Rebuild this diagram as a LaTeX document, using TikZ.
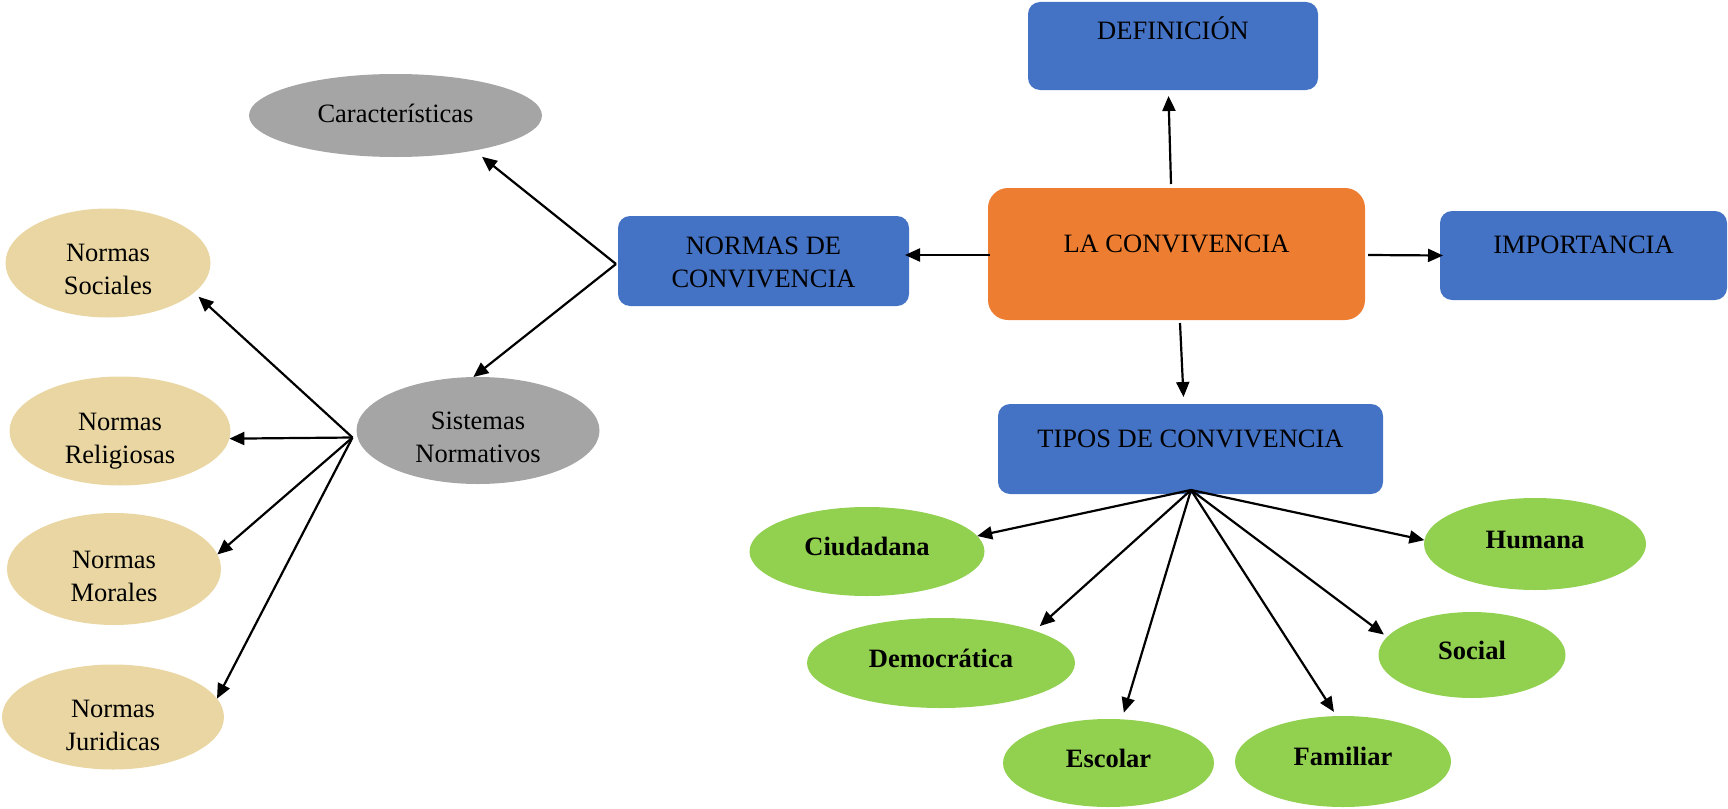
\documentclass[tikz,border=0pt]{standalone}
\usepackage{fontspec}
\setmainfont{Liberation Serif}
\usetikzlibrary{arrows.meta,shapes.geometric}
\definecolor{cblue}{HTML}{4472C4}
\definecolor{corange}{HTML}{ED7D31}
\definecolor{cgray}{HTML}{A5A5A5}
\definecolor{cgreen}{HTML}{92D050}
\definecolor{ctan}{RGB}{233,214,162}
\newcommand\dgfont{\fontsize{26.5}{33}\selectfont}
\begin{document}
\begin{tikzpicture}[x=1pt,y=-1pt,
  every node/.style={font=\dgfont, inner sep=0pt, outer sep=0pt, text=black},
  sz/.style 2 args={minimum width=#1pt, minimum height=#2pt},
  bluebox/.style={rectangle, rounded corners=12pt, fill=cblue},
  mainbox/.style={rectangle, rounded corners=20pt, fill=corange},
  grayell/.style={ellipse, fill=cgray},
  tanell/.style={ellipse, fill=ctan},
  greenell/.style={ellipse, fill=cgreen},
  arr/.style={line width=2.2pt, -{Triangle[length=15pt,width=13pt]}},
  blab/.style={text height=0pt, text depth=0pt},
  glab/.style={text height=0pt, text depth=0pt, yshift=-4pt, font=\dgfont\bfseries},
  tlab/.style={align=center}
]
\useasboundingbox (0,0) rectangle (1728,808);

% boxes
\node[bluebox, sz={290}{88}, label={[blab,yshift=6pt]center:DEFINICIÓN}] (def) at (1173,46) {};
\node[mainbox, sz={377}{132}, label={[blab,yshift=2pt]center:LA CONVIVENCIA}] (la) at (1176.5,254) {};
\node[bluebox, sz={287}{89}, label={[blab,yshift=2.5pt]center:IMPORTANCIA}] (imp) at (1583.5,255.5) {};
\node[bluebox, sz={291}{90}, label={[tlab,yshift=-1.75pt]center:{NORMAS DE\\CONVIVENCIA}}] (nor) at (763.5,261) {};
\node[bluebox, sz={385}{90}, label={[blab,yshift=1.7pt]center:TIPOS DE CONVIVENCIA}] (tipos) at (1190.5,449) {};

% gray ellipses
\node[grayell, sz={293}{83}, label={[blab,yshift=-6.5pt]center:Características}] (car) at (395.5,115.5) {};
\node[grayell, sz={243}{107}, label={[tlab,yshift=-7.25pt]center:{Sistemas\\Normativos}}] (sis) at (478,430.5) {};

% tan ellipses
\node[tanell, sz={205}{109}, label={[tlab,yshift=-6pt]center:{Normas\\Sociales}}] (soc) at (108,263) {};
\node[tanell, sz={221}{109}, label={[tlab,yshift=-10pt]center:{Normas\\Religiosas}}] (rel) at (120,431) {};
\node[tanell, sz={214}{112}, label={[tlab,yshift=-7.5pt]center:{Normas\\Morales}}] (mor) at (114,569) {};
\node[tanell, sz={222}{105}, label={[tlab,yshift=-8.5pt]center:{Normas\\Juridicas}}] (jur) at (113,717) {};

% green ellipses
\node[greenell, sz={235}{89}, label={[glab]center:Ciudadana}] (ciu) at (867,551.5) {};
\node[greenell, sz={268}{90}, label={[glab]center:Democrática}] (dem) at (941,663) {};
\node[greenell, sz={211}{88}, label={[glab]center:Escolar}] (esc) at (1108.5,763) {};
\node[greenell, sz={216}{91}, label={[glab]center:Familiar}] (fam) at (1343,761.5) {};
\node[greenell, sz={187}{86}, label={[glab]center:Social}] (sci) at (1472,655) {};
\node[greenell, sz={222}{92}, label={[glab]center:Humana}] (hum) at (1535,544) {};

% arrow sources
\coordinate (nsrc) at ([xshift=-2pt,yshift=-3pt]nor.west);
\coordinate (ssrc) at ([xshift=-4pt,yshift=-7pt]sis.west);
\coordinate (tsrc) at ([xshift=0.5pt,yshift=4pt]tipos.south);

% arrows from LA CONVIVENCIA
\draw[arr] ([xshift=-5.5pt,yshift=4pt]la.north) -- ([xshift=-4.5pt,yshift=-6pt]def.south);
\draw[arr] ([xshift=3pt,yshift=-1pt]la.east) -- ([xshift=3pt]imp.west);
\draw[arr] ([xshift=2pt,yshift=-1pt]la.west) -- ([xshift=-4pt,yshift=6pt]nor.east);
\draw[arr] ([xshift=3.5pt,yshift=-3pt]la.south) -- ([xshift=-7pt,yshift=7pt]tipos.north);

% arrows from NORMAS
\draw[arr,shorten >=10pt] (nsrc) -- (car.-24);
\draw[arr] (nsrc) -- (sis.95);

% arrows from Sistemas
\draw[arr,shorten >=6pt] (ssrc) -- (soc.-19);
\draw[arr] (ssrc) -- (rel.-4);
\draw[arr] (ssrc) -- (mor.8);
\draw[arr] (ssrc) -- (jur.10);

% arrows from TIPOS
\draw[arr] (tsrc) -- (ciu.8);
\draw[arr,shorten >=7pt] (tsrc) -- (dem.19);
\draw[arr,shorten >=7pt] (tsrc) -- (esc.73);
\draw[arr,shorten >=5pt] (tsrc) -- (fam.98);
\draw[arr,shorten >=4pt] (tsrc) -- (sci.168);
\draw[arr] (tsrc) -- (hum.178);
\end{tikzpicture}
\end{document}
